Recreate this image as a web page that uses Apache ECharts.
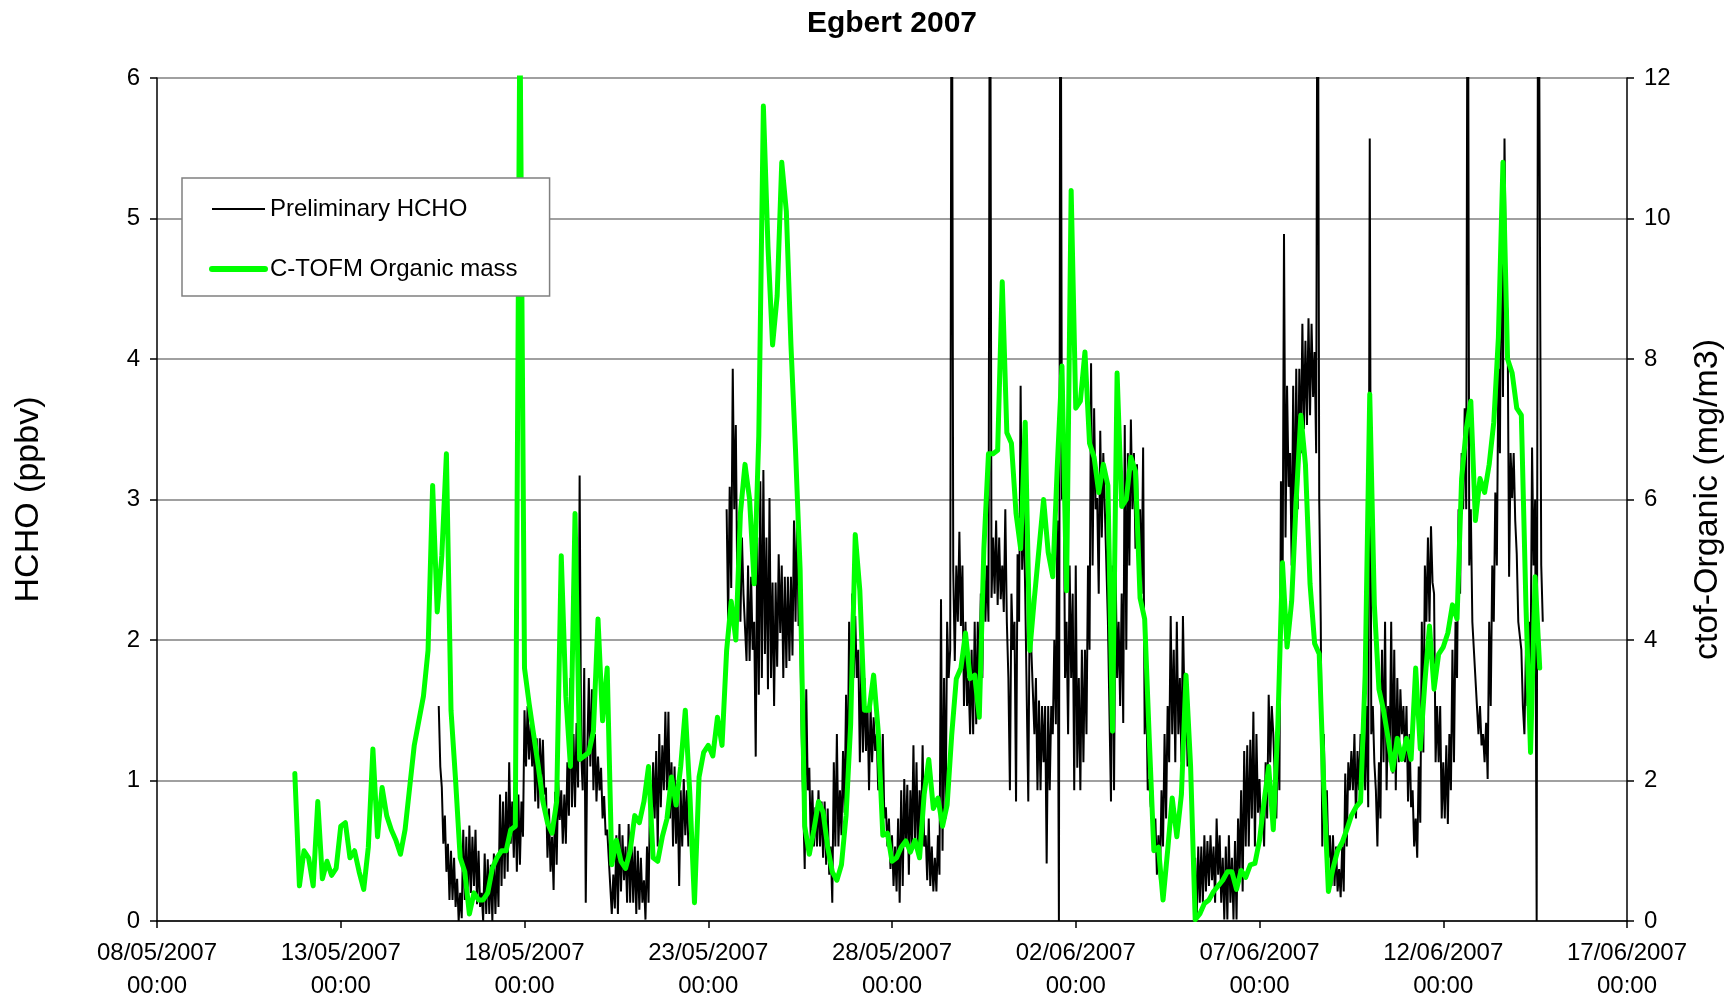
<!DOCTYPE html>
<html>
<head>
<meta charset="utf-8">
<script src="https://cdn.jsdelivr.net/npm/echarts@6/dist/echarts.min.js"></script>
<style>
  html, body { margin: 0; padding: 0; background: #ffffff; overflow: hidden; }
  #chart { width: 1727px; height: 1001px; }
</style>
</head>
<body>
<div id="chart"></div>
<script>
// Egbert 2007 campaign: formaldehyde vs. C-TOF organic aerosol mass
const chartTitle = 'Egbert 2007';
const seriesNames = ['Preliminary HCHO', 'C-TOFM Organic mass'];
const leftAxisName = 'HCHO (ppbv)';
const rightAxisName = 'ctof-Organic (mg/m3)';

// time axis: days counted from 08/05/2007 00:00 (UTC), ticks every 5 days
const axisOrigin = Date.UTC(2007, 4, 8, 0, 0);
const xTickDays = [0, 5, 10, 15, 20, 25, 30, 35, 40];
const leftTicks = [0, 1, 2, 3, 4, 5, 6];
const rightTicks = [0, 2, 4, 6, 8, 10, 12];

// HCHO (ppbv), one value per hour from 15/05/2007 16:00; null = no data
const hchoStart = Date.UTC(2007, 4, 15, 16, 0);
const hchoStepHours = 1;
const hchoValues = [
  // 15/05 16:00-23:00
  1.53, 1.1, 0.95, 0.55, 0.75, 0.35, 0.55, 0.15,
  // 16/05
  0.5, 0.15, 0.45, 0.1, 0.3, 0.0, 0.2, 0.02, 0.65, 0.15, 0.6, 0.1,
  0.68, 0.2, 0.6, 0.25, 0.65, 0.12, 0.5, 0.1, 0.2, 0.0, 0.48, 0.05,
  // 17/05
  0.44, 0.05, 0.4, 0.0, 0.48, 0.05, 0.45, 0.1, 0.9, 0.25, 0.85, 0.3,
  0.92, 0.35, 1.13, 0.55, 0.85, 0.45, 0.92, 0.35, 0.9, 0.4, 0.85, 0.6,
  // 18/05
  1.5, 1.1, 1.53, 1.15, 1.4, 1.1, 1.33, 0.85, 1.3, 0.8, 1.3, 0.95,
  1.29, 0.9, 0.95, 0.45, 0.8, 0.35, 0.6, 0.22, 0.92, 0.4, 1.0, 0.72,
  // 19/05
  0.93, 0.55, 0.9, 0.55, 1.13, 0.75, 1.73, 0.81, 1.33, 0.81, 1.41, 0.95,
  3.17, 1.2, 0.93, 1.8, 0.13, 1.2, 1.73, 1.1, 1.65, 0.93, 1.33, 0.85,
  // 20/05
  1.17, 0.93, 1.09, 0.73, 0.89, 0.61, 0.65, 0.45, 0.45, 0.05, 0.33, 0.09,
  0.61, 0.05, 0.69, 0.21, 0.61, 0.29, 0.53, 0.13, 0.69, 0.13, 0.61, 0.13,
  // 21/05
  0.53, 0.05, 0.5, 0.08, 0.45, 0.13, 0.29, 0.01, 0.53, 0.13, 0.93, 0.53,
  1.13, 0.73, 1.21, 0.53, 1.33, 0.81, 1.25, 0.93, 1.49, 0.93, 1.49, 0.73,
  // 22/05
  1.13, 0.53, 1.1, 0.55, 0.93, 0.25, 0.93, 0.53, 1.01, 0.61, 0.93, 0.53,
  null, null, null, null, null, null, null, null, null, null, null, null,
  // 23/05
  null, null, null, null, null, null, null, null, null, null, null, null,
  2.93, 2.13, 3.09, 2.37, 3.93, 2.93, 3.53, 2.33, 2.85, 2.13, 2.73, 2.33,
  // 24/05
  2.33, 1.85, 2.53, 1.85, 2.45, 1.93, 2.13, 1.17, 2.73, 1.61, 3.13, 1.73,
  3.21, 1.9, 2.73, 1.65, 3.01, 1.73, 2.41, 1.53, 2.41, 1.81, 2.61, 2.05,
  // 25/05
  2.53, 1.73, 2.45, 1.8, 2.45, 1.85, 2.45, 1.89, 2.85, 2.13, 2.93, 2.1,
  2.13, 1.33, 1.33, 0.37, 1.65, 0.93, 1.09, 0.53, 0.93, 0.53, 0.81, 0.53,
  // 26/05
  0.93, 0.53, 0.85, 0.45, 0.85, 0.4, 0.8, 0.33, 0.53, 0.13, 1.13, 0.53,
  1.33, 0.53, 0.93, 0.61, 1.21, 0.77, 1.61, 0.93, 2.13, 1.33, 2.33, 1.73,
  // 27/05
  2.17, 1.73, 1.93, 1.13, 1.85, 1.2, 1.73, 1.21, 1.53, 0.93, 1.53, 1.13,
  1.45, 1.21, 1.33, 0.93, 1.13, 0.73, 1.33, 0.73, 0.81, 0.53, 0.73, 0.37,
  // 28/05
  0.61, 0.25, 0.53, 0.21, 0.73, 0.13, 0.93, 0.25, 1.01, 0.53, 0.97, 0.33,
  0.93, 0.53, 1.25, 0.53, 1.13, 0.45, 0.93, 0.61, 1.25, 0.53, 0.61, 0.29,
  // 29/05
  0.73, 0.25, 0.53, 0.21, 0.45, 0.21, 0.61, 0.33, 2.29, 0.5, 1.73, 0.73,
  2.13, 1.73, 1.93, 8, 2.49, 1.85, 2.53, 2.13, 2.77, 2.1, 2.53, 1.53,
  // 30/05
  2.13, 1.53, 1.73, 1.33, 1.93, 1.33, 2.13, 1.4, 2.13, 1.73, 2.33, 1.73,
  2.61, 2.13, 2.53, 2.13, 8, 2.3, 2.73, 2.33, 2.85, 2.25, 2.73, 2.29,
  // 31/05
  2.53, 2.2, 2.93, 2.13, 1.73, 0.93, 2.33, 1.93, 2.13, 0.85, 2.61, 2.13,
  3.81, 2.5, 2.93, 2.33, 2.33, 0.85, 2.37, 1.93, 1.93, 1.33, 1.73, 0.93,
  // 01/06
  1.57, 0.93, 1.53, 1.13, 1.53, 0.41, 1.53, 0.93, 1.53, 1.33, 2.0, 1.4,
  2.85, 0, 8, 3.0, 3.53, 1.73, 2.13, 1.33, 2.53, 1.73, 2.33, 0.93,
  // 02/06
  2.53, 1.09, 1.73, 0.93, 1.93, 1.13, 1.93, 1.33, 2.53, 1.93, 3.97, 2.53,
  3.65, 2.93, 3.01, 2.33, 3.49, 2.73, 3.33, 2.93, 2.93, 2.13, 2.13, 0.85,
  // 03/06
  2.53, 0.93, 2.53, 1.73, 2.13, 1.53, 2.33, 1.41, 3.53, 1.93, 3.33, 2.53,
  3.57, 2.93, 3.33, 2.65, 3.25, 2.53, 2.93, 2.33, 3.37, 1.33, 1.73, 0.93,
  // 04/06
  1.01, 0.81, 0.93, 0.53, 0.73, 0.33, 0.61, 0.29, 0.93, 0.53, 1.33, 0.73,
  1.53, 1.13, 2.17, 1.33, 1.93, 1.13, 2.13, 1.33, 1.73, 1.13, 2.17, 1.53,
  // 05/06
  1.73, 1.1, 1.33, 0.93, 0.61, 0.37, 0.45, 0.01, 0.53, 0.13, 0.53, 0.13,
  0.61, 0.21, 0.57, 0.25, 0.61, 0.29, 0.53, 0.13, 0.73, 0.33, 0.61, 0.13,
  // 06/06
  0.45, 0.01, 0.53, 0.01, 0.61, 0.13, 0.45, 0.01, 0.57, 0.01, 0.73, 0.33,
  0.93, 0.21, 1.21, 0.53, 1.25, 0.53, 1.29, 0.73, 1.49, 0.53, 1.33, 0.77,
  // 07/06
  1.01, 0.61, 0.81, 0.53, 1.13, 0.73, 1.61, 1.13, 1.53, 1.33, 1.01, 0.73,
  1.33, 0.93, 3.13, 2.13, 4.89, 2.73, 3.81, 3.09, 3.33, 2.53, 3.81, 2.73,
  // 08/06
  3.93, 2.93, 3.93, 3.33, 4.25, 3.5, 4.13, 3.53, 4.29, 3.6, 4.25, 3.73,
  4.05, 3.33, 8, 3.0, 2.13, 0.53, 1.33, 0.73, 0.93, 0.45, 0.61, 0.25,
  // 09/06
  0.61, 0.25, 0.53, 0.21, 0.37, 0.17, 0.53, 0.21, 1.05, 0.53, 1.13, 0.93,
  1.21, 0.93, 1.33, 0.73, 1.21, 0.93, 1.33, 0.93, 1.33, 0.93, 1.53, 0.81,
  // 10/06
  5.57, 1.33, 1.53, 1.13, 0.93, 0.53, 1.13, 0.73, 1.93, 1.13, 2.13, 0.93,
  1.53, 1.13, 2.13, 1.05, 1.93, 0.93, 1.73, 1.13, 1.65, 1.33, 1.53, 1.13,
  // 11/06
  1.53, 0.85, 1.33, 0.81, 0.93, 0.53, 0.73, 0.45, 1.1, 0.7, 2.13, 1.2,
  2.53, 2.13, 2.73, 2.13, 2.81, 2.41, 2.33, 1.13, 1.53, 1.13, 1.53, 0.73,
  // 12/06
  1.13, 0.73, 1.25, 0.69, 1.33, 0.93, 1.93, 1.13, 2.13, 1.73, 2.93, 2.33,
  3.33, 2.93, 3.65, 2.93, 8, 2.53, 2.93, 2.13, 2.13, 1.73, 1.73, 1.33,
  // 13/06
  1.53, 1.25, 1.33, 1.13, 1.41, 1.01, 2.13, 1.53, 2.53, 2.13, 3.05, 2.53,
  3.93, 3.33, 5.21, 3.73, 5.57, 4.45, 4.33, 2.45, 3.33, 3.01, 3.33, 2.85,
  // 14/06 00:00-17:00
  2.61, 2.13, 2.13, 1.93, 1.53, 1.33, 1.93, 1.53, 2.13, 1.73, 3.37, 2.53,
  3.0, 0, 8, 8, 2.53, 2.13
];

// C-TOF organic mass (mg/m3), one value every 3 h from 11/05/2007 18:00
const organicStart = Date.UTC(2007, 4, 11, 18, 0);
const organicStepHours = 3;
const organicValues = [
  2.1, 0.5, 1.0, 0.9, 0.5, 1.7, 0.6, 0.85, 0.65, 0.75,
  1.35, 1.4, 0.9, 1.0, 0.7, 0.45, 1.05, 2.45, 1.2, 1.9,
  1.5, 1.3, 1.15, 0.95, 1.3, 1.9, 2.5, 2.85, 3.2, 3.85,
  6.2, 4.4, 5.2, 6.65, 3.0, 2.0, 0.9, 0.7, 0.1, 0.4,
  0.3, 0.3, 0.4, 0.75, 0.9, 1.0, 1.0, 1.3, 1.35, 13,
  3.6, 3.1, 2.65, 2.2, 1.7, 1.4, 1.25, 1.7, 5.2, 3.2,
  2.2, 5.8, 2.3, 2.35, 2.4, 2.7, 4.3, 2.85, 3.6, 0.8,
  1.15, 0.85, 0.75, 1.0, 1.5, 1.4, 1.7, 2.2, 0.9, 0.85,
  1.2, 1.45, 2.05, 1.65, 2.2, 3.0, 1.8, 0.26, 2.05, 2.4,
  2.5, 2.35, 2.9, 2.5, 3.85, 4.55, 4.0, 5.8, 6.5, 6.0,
  4.8, 6.9, 11.6, 9.6, 8.2, 8.9, 10.8, 10.1, 8.2, 6.7,
  5.0, 1.35, 0.95, 1.3, 1.7, 1.55, 1.05, 0.7, 0.58, 0.8,
  1.5, 2.8, 5.5, 4.7, 3.0, 3.0, 3.5, 2.7, 1.22, 1.25,
  0.85, 0.9, 1.05, 1.14, 0.98, 1.15, 0.9, 1.8, 2.3, 1.6,
  1.75, 1.35, 1.65, 2.65, 3.45, 3.6, 4.1, 3.45, 3.5, 2.9,
  5.3, 6.65, 6.65, 6.7, 9.1, 6.95, 6.8, 5.8, 5.3, 7.1,
  3.85, 4.6, 5.3, 6.0, 5.25, 4.9, 6.5, 7.9, 4.7, 10.4,
  7.3, 7.4, 8.1, 6.8, 6.6, 6.1, 6.5, 6.2, 2.7, 7.8,
  5.9, 6.0, 6.6, 6.4, 4.6, 4.3, 2.6, 1.0, 1.05, 0.3,
  1.0, 1.75, 1.2, 1.8, 3.5, 2.2, 0.02, 0.1, 0.25, 0.3,
  0.42, 0.5, 0.58, 0.7, 0.7, 0.45, 0.72, 0.62, 0.8, 0.82,
  1.15, 1.7, 2.2, 1.3, 2.8, 5.1, 3.9, 4.55, 6.0, 7.2,
  6.5, 4.8, 3.95, 3.8, 1.9, 0.42, 0.75, 1.0, 1.12, 1.3,
  1.5, 1.62, 1.7, 3.5, 7.5, 4.5, 3.3, 3.0, 2.6, 2.15,
  2.6, 2.3, 2.6, 2.3, 3.6, 2.45, 3.4, 4.2, 3.3, 3.8,
  3.9, 4.1, 4.5, 4.3, 6.3, 7.0, 7.4, 5.7, 6.3, 6.1,
  6.5, 7.1, 8.3, 10.8, 8.0, 7.8, 7.3, 7.2, 4.5, 2.4,
  4.9, 3.6
];

const DAY_MS = 86400000;
function toPairs(start, stepHours, values) {
  const startDay = (start - axisOrigin) / DAY_MS;
  return values.map((v, i) => [startDay + i * stepHours / 24, v === null ? '-' : v]);
}
function pad2(n) { return (n < 10 ? '0' : '') + n; }
function dateLabel(day) {
  const d = new Date(axisOrigin + Math.round(day * DAY_MS));
  return pad2(d.getUTCDate()) + '/' + pad2(d.getUTCMonth() + 1) + '/' + d.getUTCFullYear() +
    '\n' + pad2(d.getUTCHours()) + ':' + pad2(d.getUTCMinutes());
}

const FONT = '"Liberation Sans", Arial, Helvetica, sans-serif';
const HCHO_COLOR = '#000000';
const ORGANIC_COLOR = '#00ff00';
const chart = echarts.init(document.getElementById('chart'), null, { renderer: 'canvas' });

chart.setOption({
  animation: false,
  backgroundColor: '#ffffff',
  textStyle: { fontFamily: FONT },
  title: {
    text: chartTitle,
    left: 887,
    textAlign: 'center',
    top: 4,
    textStyle: { fontFamily: FONT, fontSize: 30, fontWeight: 'bold', color: '#000000' }
  },
  legend: {
    orient: 'vertical',
    left: 182,
    top: 178,
    padding: [19, 32, 15, 27],
    itemGap: 36,
    itemWidth: 53,
    itemHeight: 24,
    backgroundColor: '#ffffff',
    borderColor: '#808080',
    borderWidth: 1.5,
    borderRadius: 0,
    selectedMode: false,
    itemStyle: { opacity: 0 },
    textStyle: { fontFamily: FONT, fontSize: 24, color: '#000000' },
    data: [
      { name: seriesNames[0], lineStyle: { color: HCHO_COLOR, width: 2.2 } },
      { name: seriesNames[1], lineStyle: { color: ORGANIC_COLOR, width: 6, cap: 'round' } }
    ]
  },
  // fixed plot rectangle; labels may sit in the margins
  grid: { left: 157, right: 100, top: 78, height: 843, containLabel: false, outerBoundsMode: 'none' },
  xAxis: {
    type: 'value',
    min: xTickDays[0],
    max: xTickDays[xTickDays.length - 1],
    interval: 5,
    axisLine: { show: true, lineStyle: { color: '#000000', width: 1.5 } },
    axisTick: { show: true, length: 7, lineStyle: { color: '#000000', width: 1.5 } },
    splitLine: { show: false },
    axisLabel: {
      margin: 16,
      fontFamily: FONT,
      fontSize: 24,
      lineHeight: 33,
      color: '#000000',
      formatter: dateLabel
    }
  },
  yAxis: [
    {
      type: 'value',
      min: leftTicks[0],
      max: leftTicks[leftTicks.length - 1],
      interval: 1,
      position: 'left',
      name: leftAxisName,
      nameLocation: 'middle',
      nameRotate: 90,
      nameGap: 111,
      nameTextStyle: { fontFamily: FONT, fontSize: 34, color: '#000000' },
      axisLine: { show: true, lineStyle: { color: '#000000', width: 1.5 } },
      axisTick: { show: true, length: 7, lineStyle: { color: '#000000', width: 1.5 } },
      splitLine: { show: true, lineStyle: { color: '#808080', width: 1.5 } },
      axisLabel: { margin: 17, fontFamily: FONT, fontSize: 24, color: '#000000' }
    },
    {
      type: 'value',
      min: rightTicks[0],
      max: rightTicks[rightTicks.length - 1],
      interval: 2,
      position: 'right',
      name: rightAxisName,
      nameLocation: 'middle',
      nameRotate: 90,
      nameGap: 64,
      nameTextStyle: { fontFamily: FONT, fontSize: 34, color: '#000000' },
      axisLine: { show: true, lineStyle: { color: '#000000', width: 1.5 } },
      axisTick: { show: true, length: 7, lineStyle: { color: '#000000', width: 1.5 } },
      splitLine: { show: false },
      axisLabel: { margin: 17, fontFamily: FONT, fontSize: 24, color: '#000000' }
    }
  ],
  series: [
    {
      name: seriesNames[0],
      type: 'line',
      yAxisIndex: 0,
      symbol: 'none',
      clip: true,
      connectNulls: false,
      color: HCHO_COLOR,
      lineStyle: { color: HCHO_COLOR, width: 2 },
      data: toPairs(hchoStart, hchoStepHours, hchoValues),
      z: 2
    },
    {
      name: seriesNames[1],
      type: 'line',
      yAxisIndex: 1,
      symbol: 'none',
      clip: true,
      color: ORGANIC_COLOR,
      lineStyle: { color: ORGANIC_COLOR, width: 5, cap: 'round', join: 'round' },
      data: toPairs(organicStart, organicStepHours, organicValues),
      z: 3
    }
  ]
});
</script>
</body>
</html>
